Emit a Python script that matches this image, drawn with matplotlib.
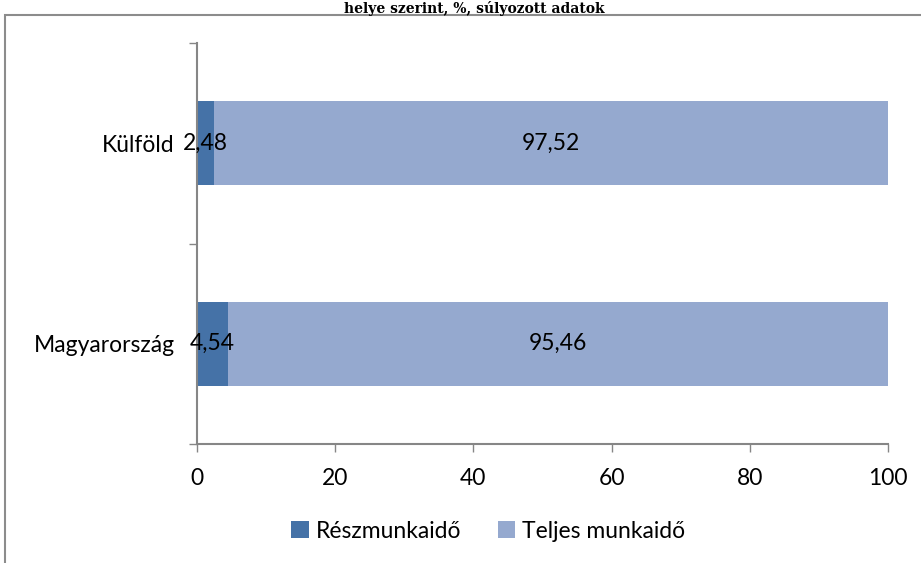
import matplotlib
matplotlib.use("Agg")
import matplotlib.pyplot as plt
from matplotlib.patches import Rectangle

categories = ["Magyarország", "Külföld"]
reszmunkaido = [4.54, 2.48]
teljes = [95.46, 97.52]
series_names = ["Részmunkaidő", "Teljes munkaidő"]
xticks = [0, 20, 40, 60, 80, 100]
title_text = "helye szerint, %, súlyozott adatok"

c_dark = "#4572A7"
c_light = "#95A9CF"
gray = "#868686"
fs = 16.5

plt.rcParams['font.family'] = ['Lato', 'DejaVu Sans']

fig = plt.figure(figsize=(9.21, 5.63), dpi=100)
W, H = 921, 563

# outer chart border
fig.patches.append(Rectangle((5 / W, -0.05), 1.2, 1 - 15 / H + 0.05, transform=fig.transFigure,
                             fill=False, edgecolor="#8c8c8c", linewidth=1.5))
# title (top strip above the chart border)
fig.text(0.515, 1 - 13 / H, title_text, ha="center", va="baseline", fontsize=10,
         fontweight="bold", family="DejaVu Serif")

ax = fig.add_axes([197 / W, 1 - 444 / H, (888 - 197) / W, (444 - 43) / H])
ypos = list(range(len(categories)))
h = 0.42
b1 = ax.barh(ypos, reszmunkaido, height=h, color=c_dark, label=series_names[0])
b2 = ax.barh(ypos, teljes, left=reszmunkaido, height=h, color=c_light, label=series_names[1])

for i in ypos:
    ax.text(reszmunkaido[i] / 2, i, f"{reszmunkaido[i]:.2f}".replace(".", ","),
            ha="center", va="center", fontsize=fs)
    ax.text(reszmunkaido[i] + teljes[i] / 2, i, f"{teljes[i]:.2f}".replace(".", ","),
            ha="center", va="center", fontsize=fs)

ax.set_xlim(0, 100)
ax.set_ylim(-0.5, 1.5)
ax.set_xticks(xticks)
ax.set_xticklabels([str(x) for x in xticks], fontsize=fs)
ax.set_yticks([-0.5, 0.5, 1.5])
ax.set_yticklabels([])
ax.set_yticks(ypos, minor=True)
ax.set_yticklabels(categories, minor=True, fontsize=fs)
ax.tick_params(axis="y", which="minor", length=0, pad=16)
ax.tick_params(axis="y", which="major", length=6, color=gray, width=1)
ax.tick_params(axis="x", length=6, color=gray, width=1, pad=11)
for s in ["top", "right"]:
    ax.spines[s].set_visible(False)
for s in ["left", "bottom"]:
    ax.spines[s].set_color(gray)
    ax.spines[s].set_linewidth(1.5)

fig.legend(handles=[b1, b2], labels=series_names, loc="center", bbox_to_anchor=(0.53, 1 - 531 / H),
           ncol=2, frameon=False, fontsize=fs, handlelength=0.75, handleheight=0.75,
           handletextpad=0.3, columnspacing=1.6)

fig.savefig("out.png", dpi=100)
